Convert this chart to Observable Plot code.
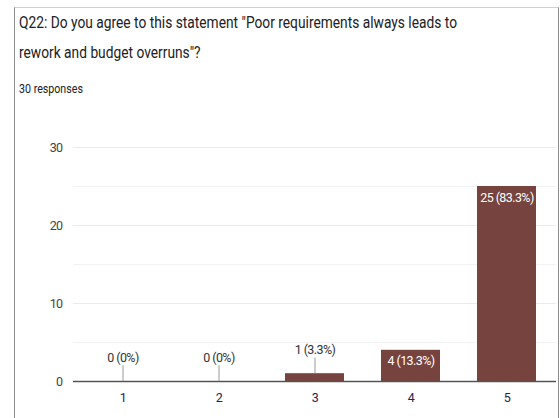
<!DOCTYPE html>
<html>
<head>
<meta charset="utf-8">
<script src="https://cdn.jsdelivr.net/npm/d3@7"></script>
<script src="https://cdn.jsdelivr.net/npm/@observablehq/plot@0.6"></script>
<style>
  html, body { margin: 0; padding: 0; background: #fff; }
  body { width: 560px; height: 418px; position: relative; overflow: hidden;
         font-family: "Roboto", sans-serif; }
  #card { position: absolute; left: 14px; top: 7px; width: 545px; height: 430px;
          border-top: 1px solid #d0d0d0; border-left: 1px solid #8a8a8a; border-right: 1px solid #8a8a8a; box-sizing: border-box; }
  #title { position: absolute; left: 19px; top: 7px; font-size: 17px; line-height: 30px; color: #202124;
           white-space: nowrap; transform: scaleX(0.81); transform-origin: left top; }
  #sub { position: absolute; left: 19px; top: 81px; font-size: 13px; color: #202124;
         white-space: nowrap; transform: scaleX(0.82); transform-origin: left top; }
  #chart { position: absolute; left: 0; top: 130px; }
</style>
</head>
<body>
<div id="card"></div>
<div id="title">Q22: Do you agree to this statement "Poor requirements always leads to<br>rework and budget overruns"?</div>
<div id="sub">30 responses</div>
<div id="chart"></div>
<script>
const categories = ["1", "2", "3", "4", "5"];
const counts = [0, 0, 1, 4, 25];
const labels = ["0 (0%)", "0 (0%)", "1 (3.3%)", "4 (13.3%)", "25 (83.3%)"];
const majorTicks = [0, 10, 20, 30];
const minorTicks = [5, 15, 25];

const data = categories.map((c, i) => ({cat: c, value: counts[i], label: labels[i]}));
const outside = data.filter(d => d.value < 3);
const inside = data.filter(d => d.value >= 3);

const chart = Plot.plot({
  width: 560,
  height: 288,
  marginLeft: 73,
  marginRight: 4,
  marginTop: 17,
  marginBottom: 37,
  style: {fontFamily: "Roboto, sans-serif", fontSize: "12px", background: "transparent", letterSpacing: "-0.6px"},
  x: {domain: categories, paddingInner: 0.39, paddingOuter: 0.195, label: null, axis: null},
  y: {domain: [0, 30], label: null, axis: null},
  marks: [
    Plot.ruleY(minorTicks, {stroke: "#f2f2f2", strokeWidth: 1}),
    Plot.ruleY(majorTicks.filter(t => t > 0), {stroke: "#ebebeb", strokeWidth: 1}),
    Plot.barY(data, {x: "cat", y: "value", fill: "#77433e"}),
    Plot.ruleY([0], {stroke: "#555", strokeWidth: 1.5}),
    Plot.ruleX(outside, {x: "cat", y1: "value", y2: d => d.value + 2, stroke: "#999", strokeWidth: 1}),
    Plot.text(outside, {x: "cat", y: d => d.value + 2, text: "label", dy: -8, fill: "#333", fontSize: 12.5}),
    Plot.text(inside, {x: "cat", y: "value", text: "label", dy: 11, fill: "#fff", fontSize: 12.5}),
    Plot.text(majorTicks, {y: d => d, text: d => String(d), frameAnchor: "left", dx: -11, textAnchor: "end", fill: "#444", fontSize: 12.5}),
    Plot.text(categories, {x: d => d, y: 0, text: d => d, dy: 16, fill: "#2a2250", fontSize: 12.5})
  ]
});
document.getElementById("chart").appendChild(chart);
</script>
</body>
</html>
